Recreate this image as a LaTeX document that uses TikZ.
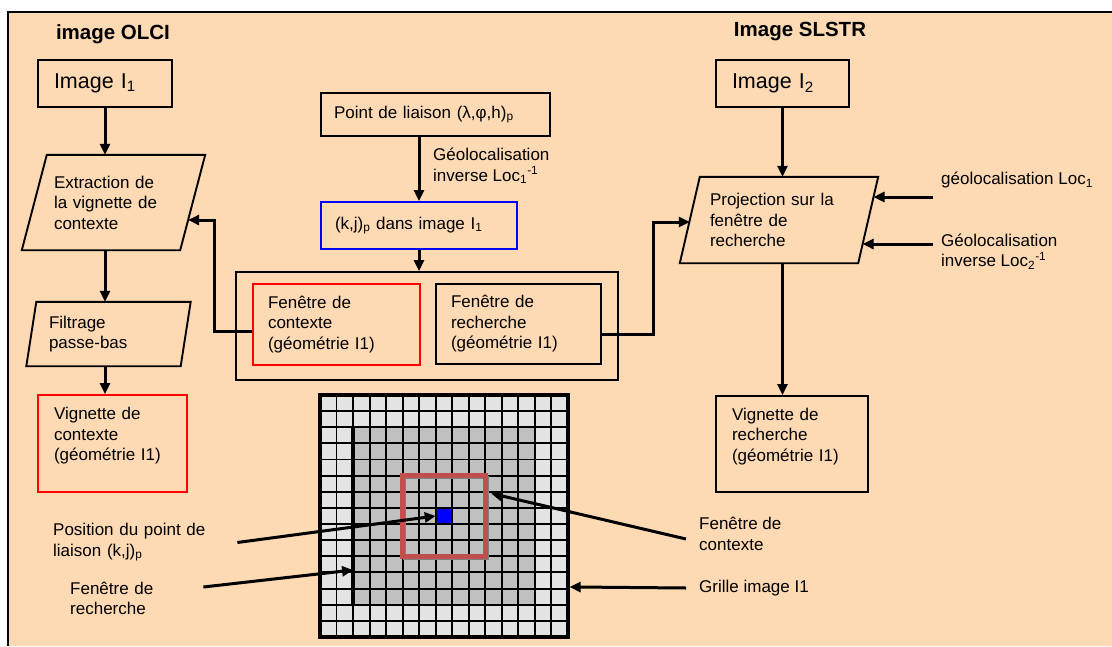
\documentclass[tikz,border=0pt]{standalone}
\usepackage{fontspec}
\setmainfont{Liberation Sans}
\usetikzlibrary{arrows.meta}
\definecolor{peach}{RGB}{253,217,180}
\definecolor{ctxred}{RGB}{192,80,77}
\definecolor{cellA}{RGB}{227,227,227}
\definecolor{cellB}{RGB}{192,192,192}
\newcommand{\fnorm}{\fontsize{17}{20.5}\selectfont}
\newcommand{\fbig}{\fontsize{21.5}{25}\selectfont}
\newcommand{\ftitle}{\fontsize{20.5}{24}\selectfont\bfseries}
\newcommand{\parashape}[2]{%
  \draw[outl] ([xshift=#2]#1.north west) -- ([xshift=#2]#1.north east)
    -- ([xshift=-#2]#1.south east) -- ([xshift=-#2]#1.south west) -- cycle;}
\tikzset{
  outl/.style={line width=1.9pt},
  box/.style={draw, outl, font=\fnorm, align=left, inner sep=0pt},
  ptext/.style={font=\fnorm, align=left, inner sep=0pt},
  lbl/.style={font=\fnorm, align=left, inner ysep=0pt, anchor=west},
  arr/.style={line width=3pt, -{Triangle[length=11pt,width=10pt]}},
  ttl/.style={font=\ftitle, inner sep=0pt},
}

\begin{document}
\begin{tikzpicture}[x=1pt,y=-1pt]
\useasboundingbox (0,0) rectangle (1112,646);
% background
\fill[peach] (8,12) rectangle (1112,646);
\draw[line width=1.6pt] (8,646) -- (8,12) -- (1112,12);

% titles
\node[ttl] (olci) at (113,34) {image OLCI};
\node[ttl] (slstr) at (800,32) {Image SLSTR};

% left column, OLCI
\node[box, font=\fbig, minimum width=134pt, minimum height=47pt, text width=102pt] (img1) at (105,83.5) {Image I\textsubscript{1}};
\node[ptext, minimum width=158pt, minimum height=95pt, text width=119pt] (extract) at (113.5,202.5) {Extraction de\\la vignette de\\contexte};
\parashape{extract}{12.5pt}
\node[ptext, minimum width=154pt, minimum height=64pt, text width=119pt] (filt) at (108.5,334) {Filtrage\\passe-bas};
\parashape{filt}{5pt}
\node[box, draw=red, minimum width=149pt, minimum height=97pt, text width=117pt, text depth=60pt] (vig1) at (112.5,443.5) {Vignette de\\contexte\\(géométrie I1)};

% centre
\node[box, minimum width=229pt, minimum height=43pt, text width=203pt] (tie) at (435.5,114.5) {Point de liaison (λ,φ,h)\textsubscript{p}};
\node[lbl, inner xsep=0pt] (geoinv1) at (433,166) {Géolocalisation\\inverse Loc\textsubscript{1}\textsuperscript{-1}};
\node[box, draw=blue, minimum width=196pt, minimum height=47pt, text width=168pt] (kj) at (419,225.5) {(k,j)\textsubscript{p} dans image I\textsubscript{1}};
\node[box, minimum width=382pt, minimum height=108pt] (win) at (427,326) {};
\node[box, draw=red, minimum width=167pt, minimum height=81pt, text width=137pt] (ctx) at (336.5,324.5) {Fenêtre de\\contexte\\(géométrie I1)};
\node[box, minimum width=165pt, minimum height=80pt, text width=135pt] (srch) at (518.5,324) {Fenêtre de\\recherche\\(géométrie I1)};

% right column, SLSTR
\node[box, font=\fbig, minimum width=133pt, minimum height=47pt, text width=101pt] (img2) at (782.5,83.5) {Image I\textsubscript{2}};
\node[ptext, minimum width=178pt, minimum height=86pt, text width=138pt] (proj) at (779,220) {Projection sur la\\fenêtre de\\recherche};
\parashape{proj}{10pt}
\node[box, minimum width=152pt, minimum height=96pt, text width=120pt, text depth=60pt] (vig2) at (792,444) {Vignette de\\recherche\\(géométrie I1)};
\node[lbl, inner xsep=8pt] (loc1) at (933,180) {géolocalisation Loc\textsubscript{1}};
\node[lbl, inner xsep=8pt] (geoinv2) at (933,251.5) {Géolocalisation\\inverse Loc\textsubscript{2}\textsuperscript{-1}};

% points on the slanted sides
\coordinate (extract-in) at ([xshift=-4.6pt,yshift=-17.5pt]extract.east);
\coordinate (proj-in) at ([yshift=-2pt]proj.west);
\coordinate (proj-r1) at ([xshift=5.3pt,yshift=23pt]proj.east);
\coordinate (proj-r2) at ([xshift=-5.6pt,yshift=-24pt]proj.east);

% arrows
\draw[arr] (img1.south) -- (img1.south |- extract.north);
\draw[arr] (img1.south |- extract.south) -- (img1.south |- filt.north);
\draw[arr] (img1.south |- filt.south) -- (img1.south |- vig1.north);
\draw[arr] ([yshift=-6.5pt]ctx.west) -- ++(-38,0) |- (extract-in);
\draw[arr] (kj.north |- tie.south) -- (kj.north);
\draw[arr] (kj.south) -- (kj.south |- win.north);
\draw[arr] ([yshift=-10pt]srch.east) -- ++(52,0) |- (proj-in);
\draw[arr] (img2.south) -- (img2.south |- proj.north);
\draw[arr] (img2.south |- proj.south) -- (img2.south |- vig2.north);
\draw[arr] (loc1.west |- proj-r1) -- (proj-r1);
\draw[arr] (geoinv2.west |- proj-r2) -- (proj-r2);

% grid of image I1
\begin{scope}[shift={(320,395)}, x=16.53pt, y=-16.13pt]
  \fill[cellA] (0,0) rectangle (15,15);
  \fill[cellB] (2,2) rectangle (13,13);
  \fill[blue] (7,7) rectangle (8,8);
  \foreach \i in {0,...,15} {
    \draw[line width=1.9pt] (\i,0) -- (\i,15);
    \draw[line width=1.9pt] (0,\i) -- (15,\i);
  }
  \draw[line width=4pt] (0,0) rectangle (15,15);
  \draw[line width=4pt] (2,2) -- (2,13);
  \draw[gray, line width=3.5pt] (5.12,5.12) rectangle (10.12,10.12);
  \draw[ctxred, line width=5.5pt] (5,5) rectangle (10,10);
  \coordinate (ptcell) at (7,7.5);
  \coordinate (srchwin) at (2,10.85);
  \coordinate (ctxwin) at (10.35,6.1);
  \coordinate (gridr) at (15.1,11.9);
\end{scope}

% labels round the grid
\node[lbl, inner xsep=12pt, text width=172pt] (posl) at (41,542.5) {Position du point de\\liaison (k,j)\textsubscript{p}};
\node[lbl, inner xsep=12pt, text width=121pt] (srchl) at (58,598.5) {Fenêtre de\\recherche};
\node[lbl, inner xsep=13pt] (ctxl) at (686,534) {Fenêtre de\\contexte};
\node[lbl, inner xsep=13pt] (gridl) at (686,588) {Grille image I1};

\draw[arr] (posl.east) -- (ptcell);
\draw[arr] ([yshift=11.5pt]srchl.east) -- (srchwin);
\draw[arr] ([yshift=-5pt]ctxl.west) -- (ctxwin);
\draw[arr] (gridl.west) -- (gridr);
\end{tikzpicture}
\end{document}
